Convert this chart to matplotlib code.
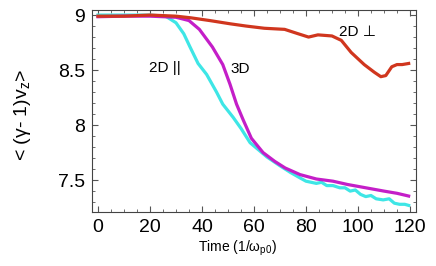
import matplotlib.pyplot as plt
from matplotlib.ticker import MultipleLocator

plt.rcParams['font.family'] = ['Liberation Sans', 'DejaVu Sans']
plt.rcParams['mathtext.default'] = 'regular'

# 2D || (cyan)
t_par = [0, 10, 20, 26, 30, 33, 35.4, 38.5, 41.8, 45.6, 48, 52, 55, 58.5, 62, 65, 70, 74, 77.7, 80, 82, 84, 86, 88, 90.4, 93, 95, 97,
         99, 101, 103, 105, 107, 109.7, 112, 114, 116, 118, 119.5]
v_par = [9.0, 9.0, 9.0, 8.99, 8.93, 8.83, 8.71, 8.56, 8.46, 8.30, 8.19, 8.07, 7.97, 7.84, 7.77, 7.71, 7.63, 7.57, 7.52, 7.49, 7.48, 7.47, 7.48, 7.45, 7.45, 7.43, 7.43, 7.40,
         7.41, 7.37, 7.35, 7.36, 7.33, 7.32, 7.33, 7.29, 7.28, 7.28, 7.27]

# 3D (magenta)
t_3d = [0, 10, 20, 30, 35, 39, 44, 48, 50.8, 53.3, 55.8, 59, 63.5, 68, 72, 77.7, 84, 90.4, 96, 103, 110, 115, 119.5]
v_3d = [8.985, 8.99, 8.99, 8.98, 8.95, 8.87, 8.71, 8.55, 8.37, 8.19, 8.05, 7.88, 7.75, 7.67, 7.61, 7.55, 7.51, 7.49, 7.46, 7.43, 7.40, 7.38, 7.355]

# 2D perp (red)
t_perp = [0, 10, 20, 30, 35.7, 43, 51, 57, 64, 71.8, 77, 81, 84.6, 90, 93.6, 97.4, 102.4, 106.3, 108.8, 110.7, 113, 115, 117, 119.5]
v_perp = [8.99, 8.99, 9.0, 8.99, 8.975, 8.95, 8.92, 8.90, 8.88, 8.87, 8.83, 8.80, 8.82, 8.81, 8.77, 8.66, 8.55, 8.48, 8.44, 8.45, 8.53, 8.55, 8.55, 8.56]

fig = plt.figure(figsize=(4.36, 2.66), dpi=100)
ax = fig.add_axes([0.211, 0.203, 0.743, 0.759])

ax.plot(t_par, v_par, color='#3ee6e6', lw=2.3)
ax.plot(t_3d, v_3d, color='#c41ec8', lw=2.3)
ax.plot(t_perp, v_perp, color='#d0361e', lw=2.3)

ax.text(100, 8.85, '2D \u22a5', fontsize=11, ha='center', va='center')
ax.text(25.8, 8.52, '2D ||', fontsize=11, ha='center', va='center')
ax.text(54.6, 8.51, '3D', fontsize=11, ha='center', va='center')

ax.set_xlim(-2.3, 122.3)
ax.set_ylim(7.21, 9.045)
ax.set_xticks([0, 20, 40, 60, 80, 100, 120])
ax.set_yticks([7.5, 8, 8.5, 9])
ax.set_yticklabels(['7.5', '8', '8.5', '9'])
ax.xaxis.set_minor_locator(MultipleLocator(5))
ax.yaxis.set_minor_locator(MultipleLocator(0.1))
ax.tick_params(which='both', direction='in', top=True, right=True, labelsize=14, color='#555555', pad=5)
ax.tick_params(which='major', length=4)
ax.tick_params(which='minor', length=2)
for s in ax.spines.values():
    s.set_color('#444444')
    s.set_linewidth(0.8)

ax.set_xlabel('Time (1/\u03c9$_{p0}$)', fontsize=10)
ax.xaxis.set_label_coords(0.45, -0.178)
ax.xaxis.label.set_va('center')
ax.set_ylabel('< (\u03b3- 1)v$_z$>', fontsize=14)
ax.yaxis.set_label_coords(-0.215, 0.48)
ax.yaxis.label.set_va('center')

fig.savefig('out.png', dpi=100)
